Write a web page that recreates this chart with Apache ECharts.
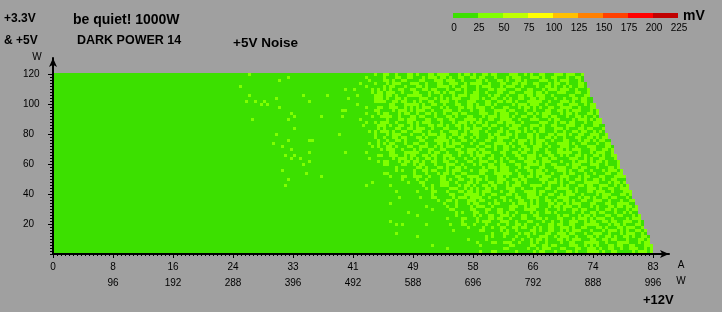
<!DOCTYPE html>
<html><head><meta charset="utf-8">
<script src="https://cdn.jsdelivr.net/npm/echarts@6/dist/echarts.min.js"></script>
<style>html,body{margin:0;padding:0;background:#a0a0a0}#c{width:722px;height:312px}</style>
</head><body><div id="c"></div>
<script>
// ---- measurement grid ----
const ampStep = 0.415;   // +12V load step per column (A)
const wattStep = 2;      // +3.3V & +5V load step per row (W)
const topWatt = 120;     // first row (top) load, W
// number of measured columns in each row (top row = 120 W, bottom row = 2 W)
const rowEnd = [177,177,177,178,178,179,179,179,180,180,181,181,182,182,182,183,183,184,184,184,185,185,186,186,187,187,187,188,188,189,189,189,190,190,191,191,191,192,192,193,193,193,194,194,195,195,195,196,196,197,197,197,198,198,199,199,199,200,200,200];
// noise band per cell: '.' = 0-25 mV, '#' = 25-50 mV (groups of 10 columns)
const noiseRows = [
".......... .......... .......... .......... .......... .......... .....#.... .......... .......... .......... .......#.. ##..#...## .#...##.## ##...#.##. #..##.##.. ..###..#.# ..##...### .###..#... ###..#...# .##.#...##",
".......... .......... .......... .......... .......... .......... .......... ........#. .......... .......... ....#..... #...##..## ...#.###.# #.#..##..# #.##...#.. .#.###...# ##.#..##.. .#..##.#.. .##.#...## #..##.##..",
".......... .......... .......... .......... .......... .......... .......... .....#.... .......... .......... .....#.... ##.#..##.. ..##...### .###..#... .##.#...## .#..##.#.. ..###..#.# ##...#.##. .#...##.## ##..#...##",
".......... .......... .......... .......... .......... .......... .......... .......... .......... .......... ..#....#.. .#.###...# ##..#...## ..###..#.# ###..#...# #..##.##.. ##...#.##. .#...##.## #.#..##..# #...##..##",
".......... .......... .......... .......... .......... .......... ..#....... .......... .......... .......... ....#..... #.##...#.. .##.#...## ##.#..##.. .#.###...# .###..#... .#..##.#.. #.#..##..# ##..#...## ..##...###",
".......... .......... .......... .......... .......... .......... .......... .......... .......... .......#.. #.....#.#. #.#..##..# #..##.##.. .#..##.#.. .#...##.## #...##..## ...#.###.# ##..#...## ##...#.##. ..###..#.#",
".......... .......... .......... .......... .......... .......... .......... .......... .......... .......... ......#.## .###..#... ##...#.##. #.##...#.. ##..#...## ..##...### .##.#...## #...##..## ##.#..##.. .#..##.#..",
".......... .......... .......... .......... .......... .......... .....#.... .......... ...#...... .#........ .#.....### .##.#...## ###..#...# ...#.###.# ##...#.##. .#...##.## .###..#... ..##...### ..###..#.# .#.###...#",
".......... .......... .......... .......... .......... .......... .......... ....#..... .......... ........#. .......### .#..##.#.. ..###..#.# .#.###...# ##.#..##.. #.#..##..# #.##...#.. #..##.##.. ..##...### .###..#...",
".......... .......... .......... .......... .......... .......... ....#..#.. #......... .....#.... .......... .......### #..##.##.. #.#..##..# ##..#...## #...##..## .##.#...## ###..#...# ##.#..##.. .#.###...# #.##...#..",
".......... .......... .......... .......... .......... .......... .........# .#........ .......... .......... .#........ ..##...### ##.#..##.. #...##..## .#..##.#.. ...#.###.# ##..#...## ..###..#.# #..##.##.. #.#..##..#",
".......... .......... .......... .......... .......... .......... .......... .....#.... .......... .......... ....#...## ..###..#.# .#.###...# .#...##.## .###..#... ##...#.##. #.#..##..# ###..#...# #.##...#.. ...#.###.#",
".......... .......... .......... .......... .......... .......... .......... .......... .......... ......##.. .......##. ...#.###.# .###..#... ###..#...# ..##...### #.##...#.. #...##..## .#.###...# .#..##.#.. ##.#..##..",
".......... .......... .......... .......... .......... .......... .......... .........# .......... .......... ....#...#. ##...#.##. .#..##.#.. #..##.##.. ..###..#.# ##..#...## .#.###...# .##.#...## .###..#... ###..#...#",
".......... .......... .......... .......... .......... .......... .......... .......... #........# ......#... ......#..# ###..#...# #.##...#.. .##.#...## ...#.###.# ##.#..##.. #..##.##.. .#..##.#.. #...##..## .#...##.##",
".......... .......... .......... .......... .......... .......... ......#... ........#. .......... .......... ..#....... .#...##.## #...##..## ..##...### #.#..##..# ###..#...# ##...#.##. ...#.###.# .##.#...## ##..#...##",
".......... .......... .......... .......... .......... .......... .......... .......... .......... .......... ....#..#.# ##..#...## .#.###...# ...#.###.# .##.#...## .###..#... ..###..#.# #.##...#.. ###..#...# ##...#.##.",
".......... .......... .......... .......... .......... .......... .......... .......... .......... .......... ...#....## #.#..##..# .#...##.## .#..##.#.. #..##.##.. .#.###...# ##.#..##.. .###..#... ##...#.##. #...##..##",
".......... .......... .......... .......... .......... .......... .......... .......... #......... .......... ........#. #...##..## .###..#... ##...#.##. ###..#...# ..###..#.# ..##...### .#...##.## ...#.###.# .#.###...#",
".......... .......... .......... .......... .......... .......... .......... .......... .......... .......... .....#.#.# ##.#..##.. ###..#...# ..###..#.# ##..#...## .#..##.#.. #.##...#.. #..##.##.. #.#..##..# .##.#...##",
".......... .......... .......... .......... .......... .......... .......... ....#..... .......... .....#.... .......#.. .#.###...# ...#.###.# #..##.##.. ##...#.##. .##.#...## .#...##.## #.#..##..# ##..#...## .#..##.#..",
".......... .......... .......... .......... .......... .......... .......... .......... .......... .......... .......#.. #..##.##.. .##.#...## #.#..##..# .#...##.## ##..#...## .#..##.#.. #...##..## .#.###...# ..###..#.#",
".......... .......... .......... .......... .......... .......... .......... ........#. .....##... .......... ........#. .#..##.#.. ..##...### ##.#..##.. #...##..## ...#.###.# .###..#... ##...#.##. #.##...#.. #..##.##..",
".......... .......... .......... .......... .......... .......... .......... ...#...... .......... .......... .....#..#. #.##...#.. ##..#...## .#.###...# ..##...### #.#..##..# .##.#...## ##.#..##.. .#..##.#.. .###..#...",
".......... .......... .......... .......... .......... .......... .......... ......#... .......... .......... ......#.#. .##.#...## ..###..#.# .###..#... .#..##.#.. ##.#..##.. ###..#...# ##..#...## #...##..## ..##...###",
".......... .......... .......... .......... .......... .......... .......... .........# .......... .......... .........# .###..#... #.#..##..# #...##..## #.##...#.. ##...#.##. ##..#...## .#.###...# #..##.##.. .#...##.##",
".......... .......... .......... .......... .......... .......... .......... .......... .....#.... .......#.. ....#..... ..##...### ##...#.##. .#...##.## .#.###...# #..##.##.. #...##..## ###..#...# .###..#... ...#.###.#",
".......... .......... .......... .......... .......... .......... .......... .......#.. #......... .......... ........## ..###..#.# #..##.##.. ###..#...# .###..#... #...##..## #.#..##..# .#..##.#.. ##.#..##.. ##...#.##.",
".......... .......... .......... .......... .......... .......... .......... .........# ..#....... .......... .....#.... ...#.###.# .#..##.#.. #.##...#.. #.#..##..# .#...##.## #..##.##.. ..###..#.# ..##...### ##..#...##",
".......... .......... .......... .......... .......... .......... .......... .......... .....#.... .......... ........#. ##...#.##. ##.#..##.. ##..#...## ..###..#.# ..##...### .#.###...# ...#.###.# .##.#...## #.##...#..",
".......... .......... .......... .......... .......... .......... .......... .......... ...#...... .......... .......... ##....##.. #.##...#.. .###..#... #.#..##..# #...##..## ##.#..##.. .#.###...# ##..#...## ..###..#.#",
".......... .......... .......... .......... .......... .......... .......... .......... .......... .......... .......... ....#..... .##.#...## .#..##.#.. ...#.###.# ##...#.##. ..##...### #..##.##.. .#...##.## ###..#...#",
".......... .......... .......... .......... .......... .......... .......... ......#... .......... .......... .......... ....#.#... #..##.##.. .#.###...# ..###..#.# ##..#...## .##.#...## #.#..##..# ...#.###.# ##...#.##.",
".......... .......... .......... .......... .......... .......... .......... .......... ....#..... .......... .......... ##........ #...#...#. ##.#..##.. ..##...### ###..#...# .###..#... #.##...#.. #...##..## .#..##.#..",
".......... .......... .......... .......... .......... .......... .......... .......... .........# .......... .......... ..#...##.. ###..#...# #...##..## ##..#...## .#...##.## .#.###...# ##...#.##. ..##...### #..##.##..",
".......... .......... .......... .......... .......... .......... .......... ........#. .......... .......... .......... ......#... .#..#....# #.#..##..# .##.#...## #..##.##.. ..###..#.# .#..##.#.. ##.#..##.. .###..#...",
".......... .......... .......... .......... .......... .......... .......... .......... .......... .......... ......#... ........#. ..##.....# ##..#...## .#...##.## .#..##.#.. ...#.###.# ..##...### ##...#.##. #.#..##..#",
".......... .......... .......... .......... .......... .......... .......... .......#.. .......... .......... ....#..... ..#....... ...#..#..# ##...#.##. #..##.##.. .#.###...# ###..#...# .#...##.## ..###..#.# .##.#...##",
".......... .......... .......... .......... .......... .......... .......... .......... .......... .......... .......... .......... ....#.#... ..###..#.# .#..##.#.. .###..#... #...##..## ##..#...## #.#..##..# ##.#..##..",
".......... .......... .......... .......... .......... .......... .......... .......... .......... .......... .......... ....#..... .#....##.. .#...##.## .#.###...# ..##...### #.##...#.. .##.#...## .###..#... ###..#...#",
".......... .......... .......... .......... .......... .......... .......... .......... .......... .......... .......... .......... ......#... ..##...### ##.#..##.. .##.#...## #.#..##..# .###..#... .#.###...# #.##...#..",
".......... .......... .......... .......... .......... .......... .......... .......... .......... .......... .......... .....#.... ..#...##.. ...#.###.# ###..#...# #...##..## ##..#...## ##...#.##. #..##.##.. .#..##.#..",
".......... .......... .......... .......... .......... .......... .......... .......... .......... .......... .......... .......... ........#. .##.#...## #.##...#.. #.#..##..# .#..##.#.. ##.#..##.. ###..#...# ..##...###",
".......... .......... .......... .......... .......... .......... .......... .......... .......... .......... .......... ..#....... .......... #...#...#. ##...#.##. ...#.###.# .#...##.## .#.###...# #...##..## ##..#...##",
".......... .......... .......... .......... .......... .......... .......... .......... .......... .......... .......... .......... ....#..... .#..#....# .###..#... ..###..#.# ##...#.##. ###..#...# .#...##.## .##.#...##",
".......... .......... .......... .......... .......... .......... .......... .......... .......... .......... .......... .......... ......#... ..##.....# #...##..## ..##...### #...#...#. #..##.##.. .#..##.#.. .#.###...#",
".......... .......... .......... .......... .......... .......... .......... .......... .......... .......... .......... ........#. .......... ....#.#... ##..#...## .#..#....# .#..##.#.. ...#..#..# #.##...#.. #.#..##..#",
".......... .......... .......... .......... .......... .......... .......... .......... .......... .......... .......... .......... .#........ ....#..... #.#..##..# ##.#..##.. ##......#. ##...#.##. #...##..## ...#.###.#",
".......... .......... .......... .......... .......... .......... .......... .......... .......... .......... .......... .......... .......... .#....##.. .#...##.## ..#...##.. .##.#...## ...#.###.# .###..#... .#.###...#",
".......... .......... .......... .......... .......... .......... .......... .......... .......... .......... .......... ..#....... .......... ......#... .#.###...# ##..#...## ...#..#..# ..###..#.# #..##.##.. ###..#...#",
".......... .......... .......... .......... .......... .......... .......... .......... .......... .......... .......... ....#.#... ....#..... ..#...##.. #...#...#. .#..##.#.. .#...##.## ..##...### ##...#.##. #...##..##",
".......... .......... .......... .......... .......... .......... .......... .......... .......... .......... .......... .......... .......... ........#. ...#..#..# #..##.##.. #.#..##..# ##.#..##.. .##.#...## .###..#...",
".......... .......... .......... .......... .......... .......... .......... .......... .......... .......... .......... .......... .......... ...#...... ..##.....# .#..#....# #.#..##..# .#.###...# ...#.###.# .#..##.#..",
".......... .......... .......... .......... .......... .......... .......... .......... .......... .......... .......... ....#..... .......... .......... ......#... ##...#.##. #...##..## #.##...#.. ###..#...# .###..#...",
".......... .......... .......... .......... .......... .......... .......... .......... .......... .......... .......... .......... .#........ .......... ....#.#... #...#...#. ..###..#.# ##..#...## .#..##.#.. ##.#..##..",
".......... .......... .......... .......... .......... .......... .......... .......... .......... .......... .......... .......... .......... ........#. ....#..... ...#..#..# .##.#...## .#.###...# #..##.##.. .#...##.##",
".......... .......... .......... .......... .......... .......... .......... .......... .......... .......... .......... .......... .......... .......... .#....##.. ###..#...# .#..#....# ..##...### ##..#...## ##...#.##.",
".......... .......... .......... .......... .......... .......... .......... .......... .......... .......... .......... .......... ......#... .......... ..#....... ..##.....# #..##.##.. ..###..#.# .#...##.## ..##...###",
".......... .......... .......... .......... .......... .......... .......... .......... .......... .......... .......... .......... .......... .#........ .......... ##......#. .#.###...# #...##..## #.#..##..# ..###..#.#",
".......... .......... .......... .......... .......... .......... .......... .......... .......... .......... .......... .......... .......... .......... ..#...##.. ....#..... #.##...#.. .##.#...## ##.#..##.. ...#.###.#"
];
// representative noise level (mV) for each band symbol
const bandValues = { '.': 15, '#': 35 };

// ---- legend / colour scale ----
const legendBreaks = [0, 25, 50, 75, 100, 125, 150, 175, 200, 225];
const legendColors = ['#3ce000', '#80ff00', '#bfff00', '#ffff00', '#ffc000', '#ff8000', '#ff4000', '#ff0000', '#c00000'];

// ---- axis ticks ----
const ampTicks = [0, 8.3, 16.6, 24.9, 33.2, 41.5, 49.8, 58.1, 66.4, 74.7, 83];
const ampLabels = ['0', '8', '16', '24', '33', '41', '49', '58', '66', '74', '83'];
const wattLabels = ['', '96', '192', '288', '396', '492', '588', '696', '792', '888', '996'];
const wattTicks = [20, 40, 60, 80, 100, 120];
const wattTickLabels = ['20', '40', '60', '80', '100', '120'];
const ampMinorSplit = 15;
const wattMinorStep = 2;

// ---- texts ----
const titleTexts = [
  { text: '+3.3V', x: 4, y: 19, size: 12 },
  { text: '& +5V', x: 4, y: 41, size: 12 },
  { text: 'be quiet! 1000W', x: 73, y: 20, size: 14 },
  { text: 'DARK POWER 14', x: 77, y: 41, size: 12.5 },
  { text: '+5V Noise', x: 233, y: 43, size: 13.5 },
  { text: '+12V', x: 643, y: 300, size: 13 }
];

// ---------- build ----------
const data = [];
noiseRows.forEach((row, r) => {
  const cells = row.replace(/ /g, '');
  const w = topWatt - r * wattStep;
  for (let c = 0; c < rowEnd[r]; c++) {
    const ch = cells[c] || '.';
    data.push([(c + 0.5) * ampStep, w, bandValues[ch]]);
  }
});

const gridLeft = 53, gridTop = 58, gridW = 616, gridH = 196;
const xMax = 83 * gridW / 600;     // 600 px per 83 A
const yMax = gridH / 1.5;          // 1.5 px per W

const minorAmp = [];
for (let i = 0; i <= (ampTicks.length - 1) * ampMinorSplit; i++) minorAmp.push(i * ampTicks[1] / ampMinorSplit);
const minorWatt = [];
for (let v = 0; v <= topWatt; v += wattMinorStep) minorWatt.push(v);

const font = '"Liberation Sans", Arial, sans-serif';
const graphics = [];
titleTexts.forEach(t => graphics.push({
  type: 'text', x: t.x, y: t.y,
  style: { text: t.text, fill: '#000', font: 'bold ' + t.size + 'px ' + font, verticalAlign: 'middle', textVerticalAlign: 'middle' }
}));
[['W', 37, 57], ['A', 681, 265], ['W', 681, 281]].forEach(([s, x, y]) => graphics.push({
  type: 'text', x, y,
  style: { text: s, fill: '#000', font: '10px ' + font, align: 'center', textAlign: 'center', verticalAlign: 'middle', textVerticalAlign: 'middle' }
}));
const legX = 453, legY = 13, segW = 25, segH = 5;
legendColors.forEach((col, i) => graphics.push({
  type: 'rect', shape: { x: legX + i * segW, y: legY, width: segW, height: segH }, style: { fill: col }
}));
legendBreaks.forEach((b, i) => graphics.push({
  type: 'text', x: legX + i * segW + 1, y: 28,
  style: { text: String(b), fill: '#000', font: '10px ' + font, align: 'center', textAlign: 'center', verticalAlign: 'middle', textVerticalAlign: 'middle' }
}));
graphics.push({ type: 'text', x: 683, y: 16, style: { text: 'mV', fill: '#000', font: 'bold 14px ' + font, verticalAlign: 'middle', textVerticalAlign: 'middle' } });

const chart = echarts.init(document.getElementById('c'), null, { renderer: 'canvas' });
chart.setOption({
  backgroundColor: '#a0a0a0',
  animation: false,
  grid: { left: gridLeft, top: gridTop, width: gridW, height: gridH, containLabel: false },
  xAxis: [{
    type: 'value', min: 0, max: xMax, z: 5,
    axisLine: { show: true, symbol: ['none', 'arrow'], symbolSize: [6, 9], lineStyle: { color: '#000', width: 2 } },
    axisTick: { show: true, customValues: ampTicks, length: 4, lineStyle: { color: '#000', width: 1 } },
    axisLabel: {
      show: true, customValues: ampTicks, margin: 5, color: '#000', fontSize: 10, fontFamily: font, lineHeight: 16,
      formatter: v => { const i = ampTicks.findIndex(t => Math.abs(t - v) < 1e-6); return i < 0 ? '' : ampLabels[i] + '\n' + wattLabels[i]; }
    },
    splitLine: { show: false }
  }, {
    type: 'value', min: 0, max: xMax, position: 'bottom', z: 5,
    axisLine: { show: false },
    axisTick: { show: true, customValues: minorAmp, length: 2, lineStyle: { color: '#000', width: 1 } },
    axisLabel: { show: false }, splitLine: { show: false }
  }],
  yAxis: [{
    type: 'value', min: 0, max: yMax, z: 5,
    axisLine: { show: true, symbol: ['none', 'arrow'], symbolSize: [6, 9], lineStyle: { color: '#000', width: 2 } },
    axisTick: { show: true, customValues: wattTicks, length: 5, lineStyle: { color: '#000', width: 1 } },
    axisLabel: {
      show: true, customValues: wattTicks, margin: 30, align: 'left', color: '#000', fontSize: 10, fontFamily: font,
      formatter: v => { const i = wattTicks.indexOf(v); return i < 0 ? '' : wattTickLabels[i]; }
    },
    splitLine: { show: false }
  }, {
    type: 'value', min: 0, max: yMax, position: 'left', z: 5,
    axisLine: { show: false },
    axisTick: { show: true, customValues: minorWatt, length: 3, lineStyle: { color: '#000', width: 1 } },
    axisLabel: { show: false }, splitLine: { show: false }
  }],
  visualMap: {
    type: 'piecewise', show: false, dimension: 2, seriesIndex: 0,
    pieces: legendColors.map((c, i) => ({ gte: legendBreaks[i], lt: legendBreaks[i + 1], color: c }))
  },
  graphic: graphics,
  series: [{
    type: 'custom', coordinateSystem: 'cartesian2d', xAxisIndex: 0, yAxisIndex: 0,
    data: data, encode: { x: 0, y: 1 }, silent: true,
    renderItem: (params, api) => {
      const a = api.value(0), w = api.value(1);
      const p0 = api.coord([a - ampStep / 2, w + wattStep / 2]);
      const p1 = api.coord([a + ampStep / 2, w - wattStep / 2]);
      const x0 = Math.round(p0[0]), y0 = Math.round(p0[1]), x1 = Math.round(p1[0]), y1 = Math.round(p1[1]);
      return { type: 'rect', shape: { x: x0, y: y0, width: x1 - x0, height: y1 - y0 }, style: { fill: api.visual('color') } };
    }
  }]
});
</script>
</body></html>
